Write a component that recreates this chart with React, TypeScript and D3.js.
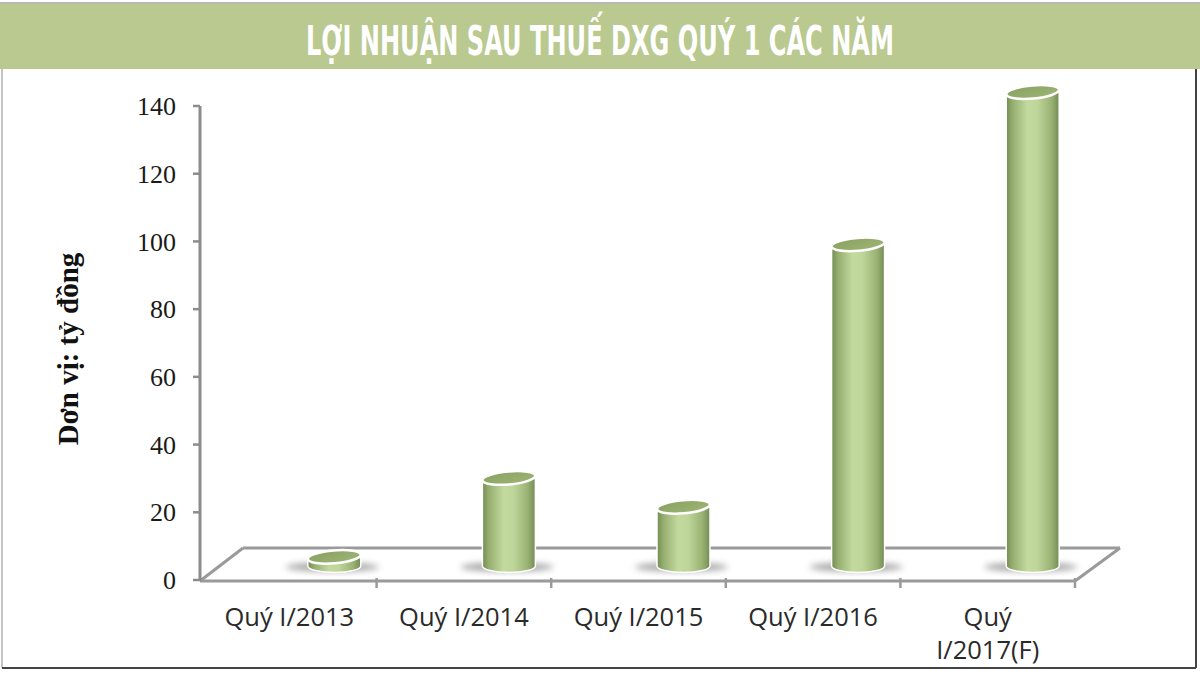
import React from "react";
import * as d3 from "d3";

const categories: string[] = ["Quý I/2013", "Quý I/2014", "Quý I/2015", "Quý I/2016", "Quý I/2017(F)"];
const labelLines: string[][] = [["Quý I/2013"], ["Quý I/2014"], ["Quý I/2015"], ["Quý I/2016"], ["Quý", "I/2017(F)"]];
const profits: number[] = [2.7, 26, 17.5, 95, 140];
const yTicks: number[] = [0, 20, 40, 60, 80, 100, 120, 140];
const title = "LỢI NHUẬN SAU THUẾ DXG QUÝ 1 CÁC NĂM";
const yTitle = "Dơn vị: tỷ đồng";

const W = 1200;
const H = 675;

export default function App() {
  const y = d3.scaleLinear().domain([0, 140]).range([580, 106]);
  const x = d3.scaleBand<string>().domain(categories).range([202, 1075]).padding(0);
  const bw = x.bandwidth();
  const depthDx = 45;
  const baseY = 566;
  const floorBackDx = 43;
  const floorBackDy = -33;
  const rx = 26.5;
  const ry = 6.5;
  const frontY = y(0) + 1;
  const x0 = 200;
  const x1 = 1075;

  return (
    <svg width={W} height={H} viewBox={`0 0 ${W} ${H}`} style={{ position: "absolute", left: 0, top: 0, background: "#fff" }}>
      <defs>
        <linearGradient id="cyl" x1="0" x2="1" y1="0" y2="0">
          <stop offset="0%" stopColor="#738b52" />
          <stop offset="12%" stopColor="#95ae6f" />
          <stop offset="40%" stopColor="#c3da9f" />
          <stop offset="58%" stopColor="#bfd69a" />
          <stop offset="85%" stopColor="#9ab374" />
          <stop offset="100%" stopColor="#748c55" />
        </linearGradient>
        <linearGradient id="capg" x1="0" x2="1" y1="0" y2="1">
          <stop offset="0%" stopColor="#88a060" />
          <stop offset="100%" stopColor="#9db676" />
        </linearGradient>
        <filter id="blur" x="-50%" y="-200%" width="200%" height="500%">
          <feGaussianBlur stdDeviation="3" />
        </filter>
      </defs>

      {/* top rule + banner */}
      <rect x={0} y={0} width={W} height={H} fill="#ffffff" />
      <line x1={0} x2={W} y1={3} y2={3} stroke="#a0a0a0" strokeWidth={1.5} />
      <rect x={0} y={4} width={W} height={65} fill="#b9c98f" />
      <text
        x={600}
        y={55}
        textAnchor="middle"
        fill="#ffffff"
        fontFamily="'Liberation Sans Narrow', 'DejaVu Sans Condensed', 'Roboto', sans-serif"
        fontWeight="bold"
        fontSize={40}
        style={{ fontStretch: "condensed" }}
        textLength={588}
        lengthAdjust="spacingAndGlyphs"
      >
        {title}
      </text>

      {/* panel border */}
      <line x1={2} x2={2} y1={69} y2={668} stroke="#b0b0b0" strokeWidth={1.5} />
      <line x1={1196} x2={1196} y1={69} y2={668} stroke="#444" strokeWidth={2} />
      <line x1={2} x2={1196} y1={668} y2={668} stroke="#444" strokeWidth={2} />

      {/* floor */}
      <g stroke="#9a9a9a" strokeWidth={3} fill="none">
        <line x1={x0 + floorBackDx} y1={frontY + floorBackDy} x2={x1 + floorBackDx + 2} y2={frontY + floorBackDy} />
        <line x1={x0} y1={frontY} x2={x0 + floorBackDx} y2={frontY + floorBackDy} />
        <line x1={x1} y1={frontY} x2={x1 + floorBackDx + 2} y2={frontY + floorBackDy} />
        <line x1={x0} y1={frontY} x2={x1} y2={frontY} />
        {categories.map((c) => (
          <line key={c} x1={(x(c) as number) + bw} x2={(x(c) as number) + bw} y1={frontY - 3} y2={frontY + 7} strokeWidth={2.5} />
        ))}
      </g>

      {/* y axis */}
      <g>
        <line x1={x0} x2={x0} y1={y(140)} y2={frontY} stroke="#8c8c8c" strokeWidth={3} />
        {yTicks.map((t) => (
          <g key={t}>
            <line x1={x0 - 7} x2={x0} y1={y(t)} y2={y(t)} stroke="#8c8c8c" strokeWidth={2.5} />
            <text
              x={176}
              y={y(t)}
              dy="0.35em"
              textAnchor="end"
              fontFamily="'Liberation Serif', 'DejaVu Serif', serif"
              fontSize={26}
              fill="#1a1a1a"
            >
              {t}
            </text>
          </g>
        ))}
        <text
          transform={`translate(78,349) rotate(-90)`}
          textAnchor="middle"
          fontFamily="'Liberation Serif', 'DejaVu Serif', serif"
          fontWeight="bold"
          fontSize={29}
          fill="#111"
        >
          {yTitle}
        </text>
      </g>

      {/* cylinders */}
      {categories.map((c, i) => {
        const cx = (x(c) as number) + bw / 2 + depthDx;
        const h = y(0) - y(profits[i]);
        const topY = baseY - h;
        const body = `M${cx - rx},${topY} L${cx - rx},${baseY} A${rx},${ry} 0 0 0 ${cx + rx},${baseY} L${cx + rx},${topY} Z`;
        return (
          <g key={c}>
            <ellipse cx={cx - 2} cy={baseY + 1} rx={rx + 20} ry={4.5} fill="#8a8a8a" opacity={0.75} filter="url(#blur)" />
            <path d={body} fill="url(#cyl)" stroke="#ffffff" strokeWidth={1.5} />
            <ellipse
              cx={cx}
              cy={topY}
              rx={rx}
              ry={ry}
              fill="url(#capg)"
              stroke="#ffffff"
              strokeWidth={2.5}
              transform={`rotate(-5 ${cx} ${topY})`}
            />
          </g>
        );
      })}

      {/* x labels */}
      {categories.map((c, i) => {
        const cx = (x(c) as number) + bw / 2;
        return (
          <text
            key={c}
            x={cx}
            y={626}
            textAnchor="middle"
            fontFamily="'Open Sans', 'Liberation Sans', sans-serif"
            fontSize={25.5}
            fill="#2a2a2a"
          >
            {labelLines[i].map((ln, j) => (
              <tspan key={j} x={cx} dy={j === 0 ? 0 : 33}>
                {ln}
              </tspan>
            ))}
          </text>
        );
      })}
    </svg>
  );
}
